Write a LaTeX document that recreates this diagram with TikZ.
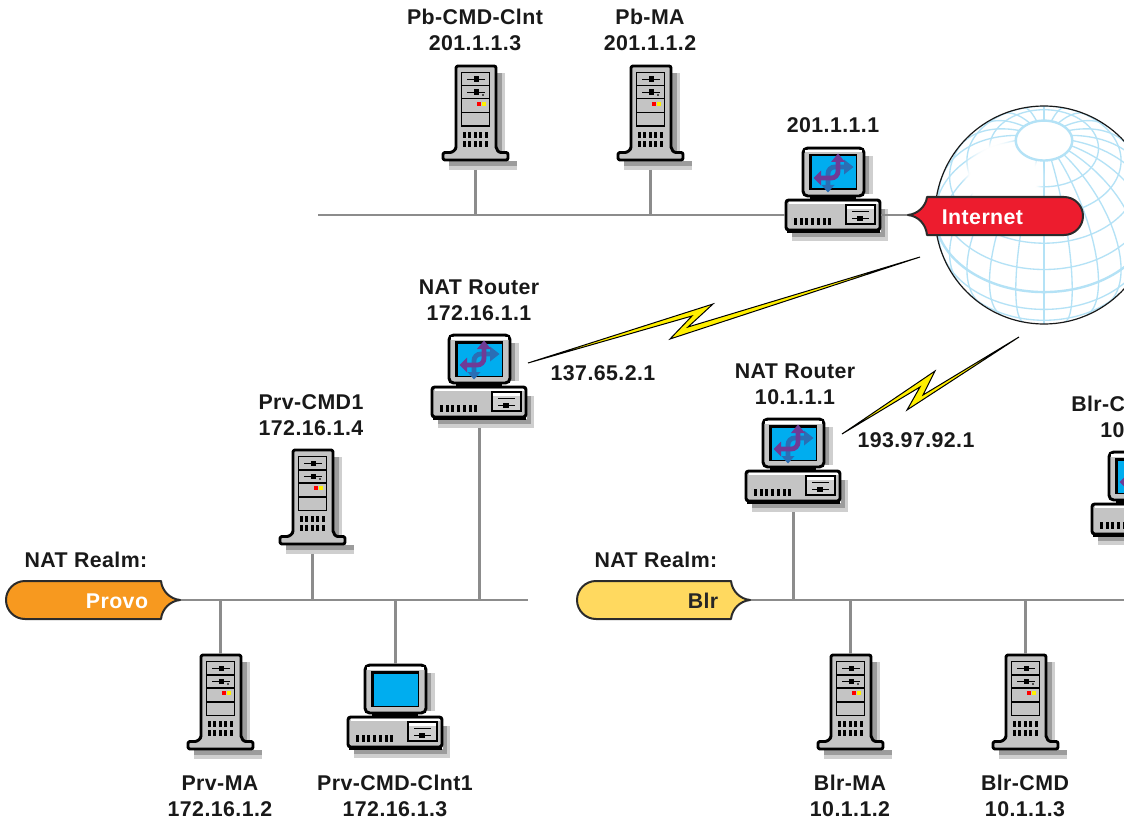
\documentclass[tikz,border=0pt]{standalone}
\usepackage{fontspec}
\setmainfont[LetterSpace=2.0]{Liberation Sans}
\usetikzlibrary{arrows.meta,fadings}
\definecolor{busgray}{HTML}{8C8C8C}
\definecolor{bodygray}{HTML}{C4C4C4}
\definecolor{shadedark}{HTML}{9C9C9C}
\definecolor{shadelight}{HTML}{CFCFCF}
\definecolor{screenblue}{HTML}{00ADEF}
\definecolor{gridblue}{HTML}{B4E2F6}
\definecolor{tagline}{HTML}{2B2B2B}
\definecolor{tagred}{HTML}{ED1C2E}
\definecolor{tagorange}{HTML}{F7991F}
\definecolor{tagyellow}{HTML}{FFD95F}
\definecolor{boltyellow}{HTML}{FFEF00}
\definecolor{arrowpurple}{HTML}{6F3B96}
\definecolor{arrowblue}{HTML}{2A6EB5}
\newcommand{\compbody}{%
  % shadow
  \fill[shadelight] (66,9) rectangle (71,47);
  \fill[shadedark] (63,9) rectangle (67,47);
  \fill[shadelight] (-10,85) rectangle (86,94);
  \fill[shadelight] (82,62) rectangle (86,94);
  \fill[shadedark] (-10,85) rectangle (82,90);
  \fill[shadedark] (79,62) rectangle (83,90);
  % monitor
  \fill[black] (8,49) rectangle (54,53);
  \draw[black,line width=2.2pt,fill=bodygray,rounded corners=3.5] (1,1) rectangle (62,49);
  \fill[white] (3,3) rectangle (60,5.5);
  \fill[black] (7,7) rectangle (55,43);
  \fill[screenblue] (9.5,9.5) rectangle (54,41.5);
  % base
  \draw[black,line width=2.2pt,fill=bodygray,rounded corners=2] (-16,53) rectangle (78,83);
  \fill[black] (-15,82) rectangle (78,85.5);
  \fill[white] (-13,55) rectangle (76,57);
  % drive
  \draw[black,line width=.9pt,fill=shadelight] (44,58) rectangle (73,77);
  \fill[white] (45,59) rectangle (72,62);
  \fill[black] (50,64) rectangle (67,65.4);
  \fill[black] (50,71) rectangle (67,72.4);
  \fill[black] (55,69) rectangle (61,74);
  % vents
  \foreach \i in {0,...,6} {\fill[black] ({-8+5.7*\i},71) rectangle ({-5+5.7*\i},78);}
}
\tikzset{
  bus/.style={busgray,line width=1.9pt},
  lbl/.style={font=\fontsize{16}{19.5}\selectfont\bfseries,align=center,text=black!90,inner sep=0pt},
  tagshape/.style={draw=tagline,line width=1.5pt,line join=round},
  tagtext/.style={font=\fontsize{16}{19.5}\selectfont\bfseries,inner sep=0pt},
  bolt/.style={draw=black,fill=boltyellow,line width=.75pt,line join=miter},
  lat/.style={gridblue,line width=1pt},
  latthick/.style={gridblue,line width=1.8pt},
  rarrow/.style={line width=3.6pt,rounded corners=5},
  server/.pic={
    \fill[shadelight] (46,8) rectangle (50,88);
    \fill[shadedark] (42,8) rectangle (47,88);
    \fill[shadelight] (-6,96) rectangle (62,105);
    \fill[shadedark] (-6,96) rectangle (62,101);
    \draw[black,line width=2.2pt,fill=bodygray,line join=round,rounded corners=1.5]
      (1,1) -- (41,1) -- (41,80) .. controls (41,85) and (44,87.5) .. (48,87.5) -- (53,87.5) -- (53,95) -- (-12,95) -- (-12,87.5) -- (-7,87.5) .. controls (-3,87.5) and (1,85) .. (1,80) -- cycle;
    \fill[black] (6,7) rectangle (35,62);
    \fill[bodygray] (7,8) rectangle (34,20);
    \fill[bodygray] (7,21.5) rectangle (34,33);
    \fill[bodygray] (7,34.5) rectangle (34,47);
    \fill[bodygray] (7,48.5) rectangle (34,60.5);
    \fill[black] (12,13.6) rectangle (30,14.8);
    \fill[black] (19,11.5) rectangle (24,17);
    \fill[black] (12,26.6) rectangle (30,27.8);
    \fill[black] (19,24.5) rectangle (24,30);
    \fill[black!70] (27,29) rectangle (29,31);
    \fill[red] (22,37) rectangle (26,41);
    \fill[yellow] (26.5,37) rectangle (31,41);
    \foreach \i in {0,...,4} {
      \fill[black] ({8+5.4*\i},67) rectangle ({11+5.4*\i},73);
      \fill[black] ({8+5.4*\i},76) rectangle ({11+5.4*\i},82);
    }
    \coordinate (-base) at (20.5,105);
    \coordinate (-top) at (20.5,0);
  },
  computer/.pic={
    \compbody
    \coordinate (-base) at (31.5,94);
    \coordinate (-top) at (31.5,0);
    \coordinate (-left) at (-17,68);
    \coordinate (-right) at (79,68);
  },
  router/.pic={
    \compbody
    % blue: down and right
    \draw[arrowblue,rarrow] (26,38) -- (26,20) -- (42,20);
    \fill[arrowblue] (19.5,38) -- (32.5,38) -- (26,45.5) -- cycle;
    \fill[arrowblue] (42,12.5) -- (42,27.5) -- (51.5,20) -- cycle;
    % purple: left and up
    \draw[arrowpurple,rarrow] (19,31) -- (36,31) -- (36,15);
    \fill[arrowpurple] (19,23.5) -- (19,38.5) -- (11.5,31) -- cycle;
    \fill[arrowpurple] (29,15) -- (43,15) -- (36,6.5) -- cycle;
    \coordinate (-base) at (31.5,94);
    \coordinate (-top) at (31.5,0);
    \coordinate (-left) at (-17,68);
    \coordinate (-right) at (79,68);
  },
}
\begin{document}
\begin{tikzpicture}[x=0.75pt,y=-0.75pt]
\useasboundingbox (0,0) rectangle (1124,820);
\clip (0,0) rectangle (1124,820);
% globe
\fill[white] (1044,215) circle[radius=109];
\begin{scope}
\clip (1044,215) circle[radius=109];
\foreach \lam in {0,15,...,345} {
  \pgfmathsetmacro{\fmin}{atan(-cos(\lam))}
  \draw[lat] plot[variable=\t,domain=\fmin:75,samples=24,smooth]
    ({1044+109*cos(\t)*sin(\lam)},{215-109*(sin(\t)*0.7071-cos(\t)*cos(\lam)*0.7071)});
}
\foreach \phi/\sty in {60/lat,45/lat} {
  \draw[\sty] plot[variable=\t,domain=0:360,samples=73,smooth]
    ({1044+109*cos(\phi)*sin(\t)},{215-109*(sin(\phi)*0.7071-cos(\phi)*cos(\t)*0.7071)});
}
\foreach \phi/\sty in {30/lat,15/lat,0/latthick,-15/lat,-30/lat} {
  \pgfmathsetmacro{\lmax}{acos(-tan(\phi))}
  \draw[\sty] plot[variable=\t,domain=-\lmax:\lmax,samples=61,smooth]
    ({1044+109*cos(\phi)*sin(\t)},{215-109*(sin(\phi)*0.7071-cos(\phi)*cos(\t)*0.7071)});
}
\fill[white,path fading=circle with fuzzy edge 20 percent] (1003,178) circle[radius=42];
\draw[latthick,fill=white] plot[variable=\t,domain=0:360,samples=73,smooth]
    ({1044+109*cos(75)*sin(\t)},{215-109*(sin(75)*0.7071-cos(75)*cos(\t)*0.7071)}) -- cycle;
\end{scope}
\draw[black!90,line width=.9pt] (1044,215) circle[radius=109];
% equipment
\pic (pbclnt) at (455,65) {server};
\pic (pbma) at (630,65) {server};
\pic (gw) at (802,147) {router};
\pic (provort) at (448,334) {router};
\pic (blrrt) at (762,418) {router};
\pic (prvcmd) at (292,449) {server};
\pic (prvma) at (200,654) {server};
\pic (prvclnt) at (364,664) {computer};
\pic (blrma) at (830,654) {server};
\pic (blrcmd) at (1005,654) {server};
\pic (blrclnt) at (1108,451) {router};
% bus end points
\coordinate (busAstart) at (318,215);
\coordinate (tipI) at (908,215);
\coordinate (tipP) at (180,600);
\coordinate (busBend) at (528,600);
\coordinate (tipB) at (750,600);
\coordinate (busCend) at (1124,600);
% buses
\draw[bus] (busAstart) -- (gw-left |- busAstart);
\draw[bus] (gw-right |- tipI) -- (tipI);
\draw[bus] (pbclnt-base) -- (pbclnt-base |- busAstart);
\draw[bus] (pbma-base) -- (pbma-base |- busAstart);
\draw[bus] (tipP) -- (busBend);
\draw[bus] (prvcmd-base) -- (prvcmd-base |- tipP);
\draw[bus] (provort-base) -- (provort-base |- tipP);
\draw[bus] (prvma-top) -- (prvma-top |- tipP);
\draw[bus] (prvclnt-top) -- (prvclnt-top |- tipP);
\draw[bus] (tipB) -- (busCend);
\draw[bus] (blrrt-base) -- (blrrt-base |- tipB);
\draw[bus] (blrma-top) -- (blrma-top |- tipB);
\draw[bus] (blrcmd-top) -- (blrcmd-top |- tipB);
% tags
\draw[tagshape,fill=tagred] (tipI) .. controls (918,214) and (926,206) .. (927,197) -- (1064,197) arc[start angle=-90,end angle=90,radius=19] -- (927,235) .. controls (926,224) and (918,216) .. (tipI) -- cycle;
\node[tagtext,text=white] (internet) at (982.5,217) {Internet};
\draw[tagshape,fill=tagorange] (tipP) .. controls (170,599) and (162,591) .. (161,581) -- (25,581) arc[start angle=-90,end angle=-270,radius=19] -- (161,619) .. controls (162,609) and (170,601) .. (tipP) -- cycle;
\node[tagtext,text=white] (provo) at (117,601) {Provo};
\draw[tagshape,fill=tagyellow] (tipB) .. controls (740,599) and (732,591) .. (731,581) -- (596,581) arc[start angle=-90,end angle=-270,radius=19] -- (731,619) .. controls (732,609) and (740,601) .. (tipB) -- cycle;
\node[tagtext,text=black!85] (blr) at (703,601) {Blr};
% bolts
\draw[bolt] (528,363) -- (713,304) -- (688,327) -- (920,257) -- (670,339) -- (692,316) -- cycle;
\draw[bolt] (842,434) -- (935,371) -- (923,395) -- (1019,337) -- (907,410) -- (920,387) -- cycle;
% labels
\node[lbl] (l1) at (475,30) {Pb-CMD-Clnt\\201.1.1.3};
\node[lbl] (l2) at (650,30) {Pb-MA\\201.1.1.2};
\node[lbl] (l3) at (833,125) {201.1.1.1};
\node[lbl] (l4) at (479,300) {NAT Router\\172.16.1.1};
\node[lbl] (l5) at (603,373) {137.65.2.1};
\node[lbl] (l6) at (795,384) {NAT Router\\10.1.1.1};
\node[lbl] (l7) at (916,440) {193.97.92.1};
\node[lbl] (l8) at (311,415) {Prv-CMD1\\172.16.1.4};
\node[lbl,anchor=west] (l9) at (1071,404) {Blr-C};
\node[lbl,anchor=west] (l10) at (1100,430) {10};
\node[lbl] (l11) at (86,560) {NAT Realm:};
\node[lbl] (l12) at (656,560) {NAT Realm:};
\node[lbl] (l13) at (220,796) {Prv-MA\\172.16.1.2};
\node[lbl] (l14) at (395,796) {Prv-CMD-Clnt1\\172.16.1.3};
\node[lbl] (l15) at (850,796) {Blr-MA\\10.1.1.2};
\node[lbl] (l16) at (1025,796) {Blr-CMD\\10.1.1.3};
\end{tikzpicture}
\end{document}
